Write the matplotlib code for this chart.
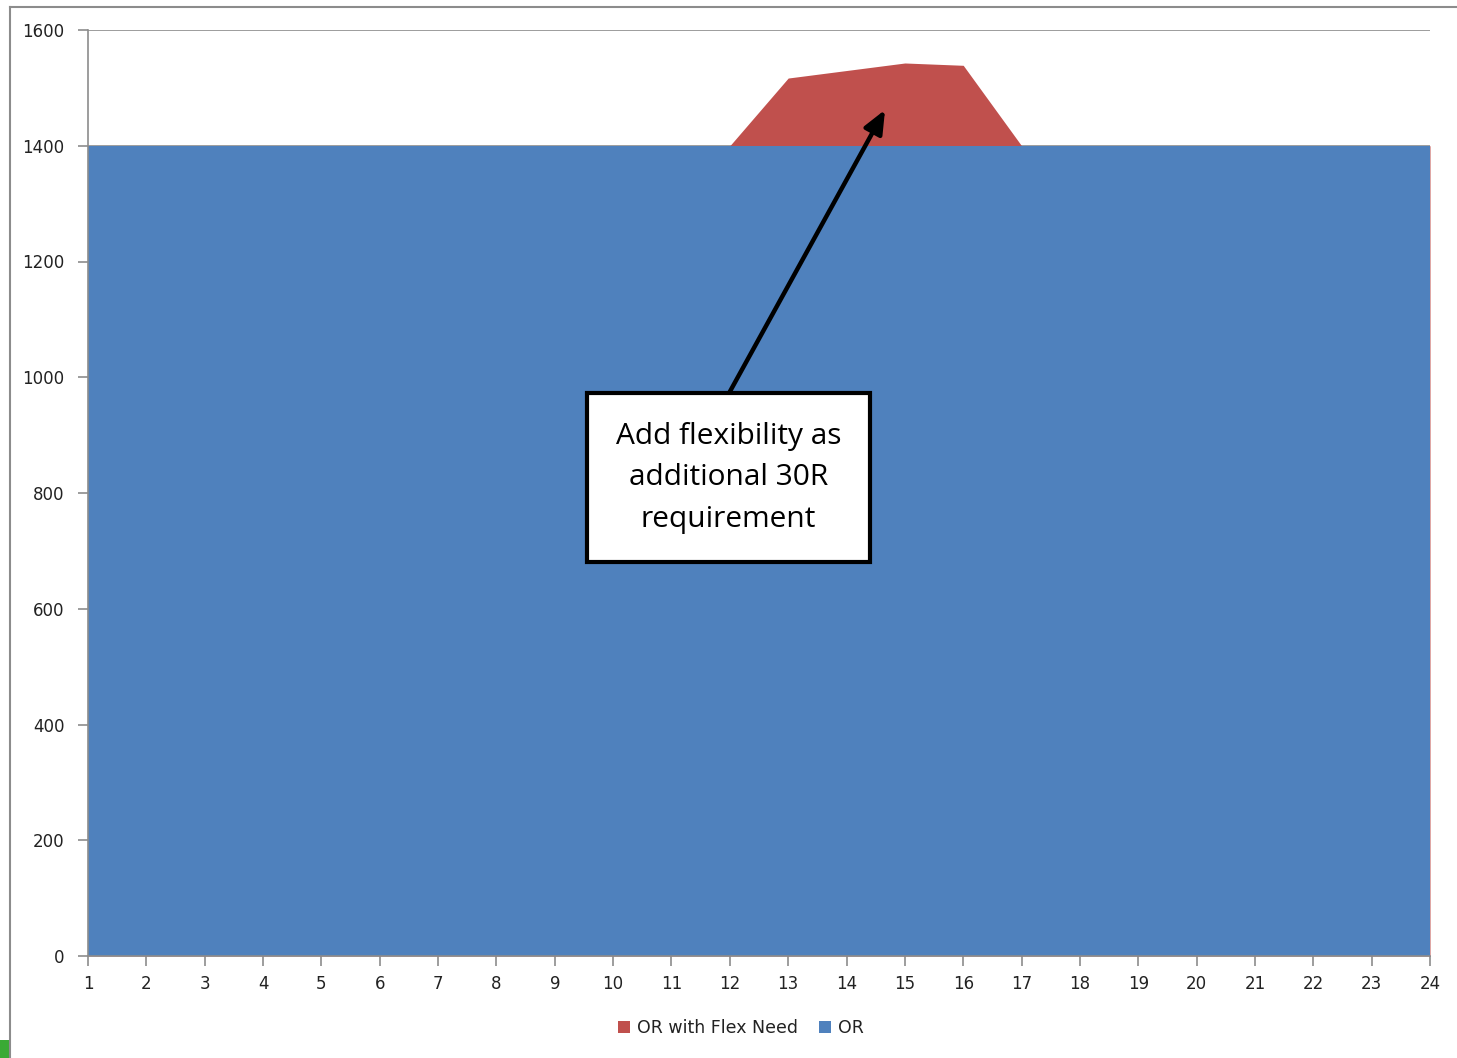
import numpy as np
import matplotlib
matplotlib.use("Agg")
from matplotlib import pyplot as plt
from matplotlib.lines import Line2D
from matplotlib.patches import Rectangle

# hourly operating reserve (MW)
hours = list(range(1, 25))
or_base = [1400] * 24
or_flex = [1400, 1400, 1400, 1400, 1400, 1400, 1400, 1400, 1400, 1400, 1400, 1400,
           1517, 1530, 1543, 1539, 1400, 1400, 1400, 1400, 1400, 1400, 1400, 1400]
y_ticks = [0, 200, 400, 600, 800, 1000, 1200, 1400, 1600]

blue = "#4F81BD"
red = "#C0504D"
axis_grey = "#8C8C8C"

W, H = 1457, 1058
fig = plt.figure(figsize=(W / 100, H / 100), dpi=100)
ax = fig.add_axes([88 / W, 1 - 956 / H, (1430 - 88) / W, (956 - 30) / H])

ax.fill_between(hours, 0, or_flex, color=red, linewidth=0, zorder=2, label="OR with Flex Need")
ax.fill_between(hours, 0, or_base, color=blue, linewidth=0, zorder=3, label="OR")

ax.set_xlim(1, 24)
ax.set_ylim(0, 1600)
ax.set_xticks(hours)
ax.set_yticks(y_ticks)
ax.yaxis.grid(True, color=axis_grey, linewidth=1.2, zorder=0)
ax.set_axisbelow(True)

for side in ["top", "right"]:
    ax.spines[side].set_visible(False)
for side in ["left", "bottom"]:
    ax.spines[side].set_color(axis_grey)
    ax.spines[side].set_linewidth(1.2)
    ax.spines[side].set_zorder(5)
ax.tick_params(direction="out", length=7, width=1.2, color=axis_grey,
               labelsize=12, labelcolor="#222222")
ax.tick_params(axis="x", pad=7)
ax.tick_params(axis="y", pad=10)

# callout box with arrow
ax.annotate("", xy=(14.66, 1462), xytext=(12.0, 975),
            arrowprops=dict(arrowstyle="-|>,head_length=1.4,head_width=0.6",
                            color="black", lw=3.2, shrinkA=0, shrinkB=0),
            zorder=6)
ax.add_patch(Rectangle((9.55, 681), 14.40 - 9.55, 973 - 681, facecolor="white",
                       edgecolor="black", linewidth=3, zorder=7))
ax.text(11.98, 826, "Add flexibility as\nadditional 30R\nrequirement",
        ha="center", va="center", fontsize=21.5, family="Open Sans",
        linespacing=1.58, zorder=8)

leg = fig.legend(loc="center", bbox_to_anchor=(741 / W, 1 - 1028 / H), ncol=2,
                 frameon=False, fontsize=12.5, handlelength=0.7, handleheight=0.7,
                 handletextpad=0.4, columnspacing=1.2)
for t in leg.get_texts():
    t.set_color("#222222")

# chart-area frame and a small green tab in the corner
fig.add_artist(Line2D([10 / W, 10 / W], [0, 1 - 7 / H], color=axis_grey, lw=1.5))
fig.add_artist(Line2D([10 / W, 1], [1 - 7 / H, 1 - 7 / H], color=axis_grey, lw=1.5))
fig.add_artist(Rectangle((0, 0), 9 / W, 18 / H, transform=fig.transFigure,
                         facecolor="#3AAA35", edgecolor="none"))

fig.savefig("out.png", dpi=100)
